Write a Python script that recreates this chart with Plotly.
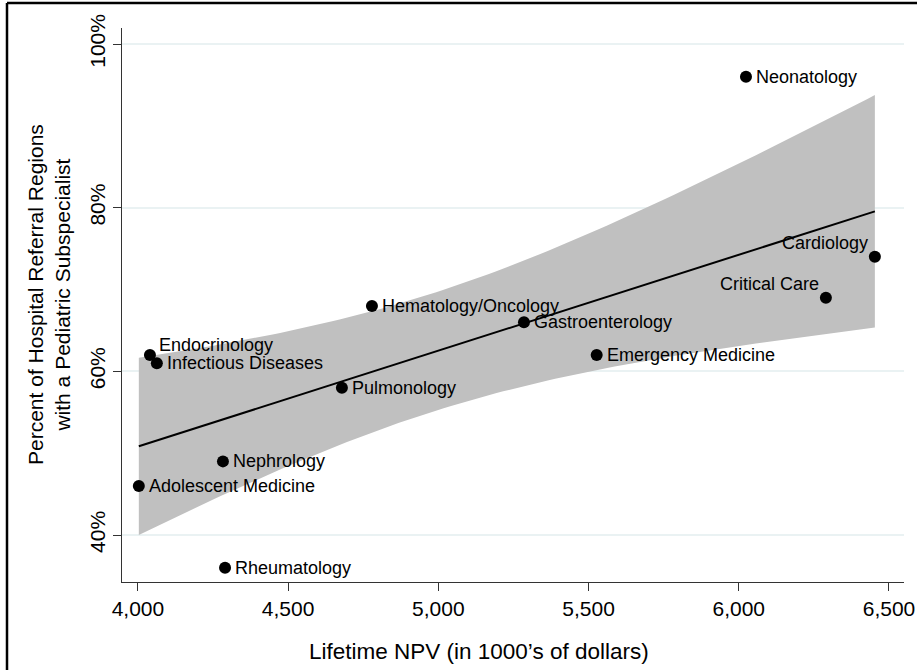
import numpy as np
import plotly.graph_objects as go

# Pediatric subspecialties: lifetime NPV (thousands of dollars) vs. share of HRRs with a subspecialist
specialty = [
    "Neonatology", "Cardiology", "Critical Care", "Hematology/Oncology",
    "Gastroenterology", "Emergency Medicine", "Endocrinology", "Infectious Diseases",
    "Pulmonology", "Nephrology", "Adolescent Medicine", "Rheumatology",
]
npv = [6024, 6453, 6290, 4779, 5285, 5527, 4040, 4063, 4679, 4283, 4003, 4290]
pct_hrr = [96, 74, 69, 68, 66, 62, 62, 61, 58, 49, 46, 36]

x_ticks = [4000, 4500, 5000, 5500, 6000, 6500]
y_ticks = [40, 60, 80, 100]
y_tick_text = ["40%", "60%", "80%", "100%"]

# Label placement around each marker: (xanchor, xshift, yshift)
label_place = {
    "Cardiology": ("right", -5, 14),
    "Critical Care": ("right", -5, 14),
    "Endocrinology": ("left", 7, 10),
}
default_place = ("left", 8, 0)

x = np.array(npv, dtype=float)
y = np.array(pct_hrr, dtype=float)
n = len(x)

# Ordinary least squares fit with 95% confidence interval of the mean prediction
xbar, ybar = x.mean(), y.mean()
sxx = ((x - xbar) ** 2).sum()
slope = ((x - xbar) * (y - ybar)).sum() / sxx
intercept = ybar - slope * xbar
resid = y - (intercept + slope * x)
s = np.sqrt((resid ** 2).sum() / (n - 2))
t_crit = 2.2281  # t(0.975, df=10)

xg = np.linspace(x.min(), x.max(), 100)
yg = intercept + slope * xg
half = t_crit * s * np.sqrt(1.0 / n + (xg - xbar) ** 2 / sxx)

band_color = "rgb(192,192,192)"
font_family = "Liberation Sans, Arial, Helvetica, sans-serif"

fig = go.Figure()
fig.add_trace(go.Scatter(x=xg, y=yg - half, mode="lines", line=dict(width=0),
                         hoverinfo="skip", showlegend=False))
fig.add_trace(go.Scatter(x=xg, y=yg + half, mode="lines", line=dict(width=0),
                         fill="tonexty", fillcolor=band_color,
                         hoverinfo="skip", showlegend=False))
fig.add_trace(go.Scatter(x=[xg[0], xg[-1]], y=[yg[0], yg[-1]], mode="lines",
                         line=dict(color="black", width=2), showlegend=False))
fig.add_trace(go.Scatter(x=npv, y=pct_hrr, mode="markers",
                         marker=dict(color="black", size=12),
                         text=specialty, showlegend=False))

for name, xv, yv in zip(specialty, npv, pct_hrr):
    anchor, xs, ys = label_place.get(name, default_place)
    fig.add_annotation(x=xv, y=yv, text=name, showarrow=False,
                       xanchor=anchor, yanchor="middle", xshift=xs, yshift=ys,
                       font=dict(size=18, color="black", family=font_family))

W, H = 917, 670
ml, mr, mt, mb = 122, 13, 28, 88
pw, ph = W - ml - mr, H - mt - mb

def px_x(p):
    return (p - ml) / pw

def px_y(p):
    return (H - mb - p) / ph

# Axis titles
fig.add_annotation(xref="paper", yref="paper", x=px_x(479), y=px_y(651),
                   text="Lifetime NPV (in 1000\u2019s of dollars)", showarrow=False,
                   xanchor="center", yanchor="middle",
                   font=dict(size=22.5, color="black", family=font_family))
fig.add_annotation(xref="paper", yref="paper", x=px_x(49), y=px_y(295),
                   text="Percent of Hospital Referral Regions<br>with a Pediatric Subspecialist",
                   showarrow=False, textangle=-90, xanchor="center", yanchor="middle",
                   font=dict(size=21, color="black", family=font_family))

# Outer frame (top and left edges)
fig.add_shape(type="line", xref="paper", yref="paper",
              x0=px_x(7), x1=px_x(W + 10), y0=px_y(3), y1=px_y(3),
              line=dict(color="black", width=2.5))
fig.add_shape(type="line", xref="paper", yref="paper",
              x0=px_x(7), x1=px_x(7), y0=px_y(3), y1=px_y(H + 10),
              line=dict(color="black", width=2.5))

fig.update_layout(
    width=W, height=H,
    margin=dict(l=ml, r=mr, t=mt, b=mb, autoexpand=False),
    paper_bgcolor="white", plot_bgcolor="white",
    font=dict(family=font_family, color="black"),
    showlegend=False,
)
fig.update_xaxes(
    range=[3947, 6550], tickvals=x_ticks, tickformat=",d",
    showgrid=False, zeroline=False,
    showline=True, linecolor="#333333", linewidth=1.2,
    ticks="outside", ticklen=8, tickcolor="#333333", tickwidth=1.2,
    tickfont=dict(size=21, color="black"),
)
fig.update_yaxes(
    range=[34.26, 101.96], tickmode="array", tickvals=y_ticks, ticktext=y_tick_text,
    tickangle=-90,
    showgrid=True, gridcolor="rgb(234,242,243)", gridwidth=2, zeroline=False,
    showline=True, linecolor="#333333", linewidth=1.2,
    ticks="outside", ticklen=8, tickcolor="#333333", tickwidth=1.2,
    tickfont=dict(size=21, color="black"),
)

fig.write_html("out.html")
